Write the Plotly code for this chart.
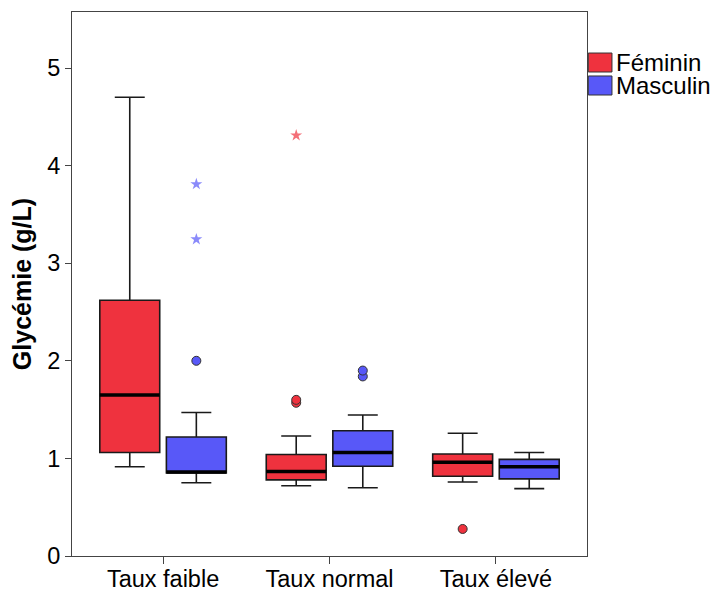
import plotly.graph_objects as go

categories = ["Taux faible", "Taux normal", "Taux élevé"]
series_names = ["Féminin", "Masculin"]
series_colors = ["#EF323E", "#5858F8"]

fem_q1 = [1.06, 0.78, 0.817]
fem_med = [1.65, 0.865, 0.96]
fem_q3 = [2.62, 1.04, 1.045]
fem_lo = [0.915, 0.72, 0.758]
fem_hi = [4.70, 1.23, 1.257]
fem_out = [[], [1.60, 1.57], [0.277]]
fem_extreme = [[], [4.31], []]

mas_q1 = [0.85, 0.92, 0.79]
mas_med = [0.86, 1.06, 0.915]
mas_q3 = [1.22, 1.284, 0.99]
mas_lo = [0.75, 0.70, 0.69]
mas_hi = [1.47, 1.445, 1.06]
mas_out = [[2.0], [1.90, 1.84], []]
mas_extreme = [[3.81, 3.245], [], []]

y_ticks = [0, 1, 2, 3, 4, 5]
y_title = "Glycémie (g/L)"

FONT = "Liberation Sans"
series = [
    (fem_q1, fem_med, fem_q3, fem_lo, fem_hi, fem_out, fem_extreme),
    (mas_q1, mas_med, mas_q3, mas_lo, mas_hi, mas_out, mas_extreme),
]


def samples(rows):
    # plotly.js drops a trace whose sample rows are empty; use a null placeholder
    return [r if len(r) else [None] for r in rows]


fig = go.Figure()
for name, color, (q1, med, q3, lo, hi, out, ext) in zip(series_names, series_colors, series):
    fig.add_trace(go.Box(
        x=categories, q1=q1, median=med, q3=q3, lowerfence=lo, upperfence=hi,
        y=samples(out), boxpoints="outliers", pointpos=0, jitter=0,
        name=name, offsetgroup=name, fillcolor=color,
        line=dict(color="#1a1a1a", width=1.6), whiskerwidth=0.5,
        marker=dict(color=color, size=9, symbol="circle",
                    line=dict(color="#333333", width=1)),
        showlegend=False,
    ))
for name, color, (q1, med, q3, lo, hi, out, ext) in zip(series_names, series_colors, series):
    fig.add_trace(go.Box(
        x=categories, q1=med, median=med, q3=med, lowerfence=med, upperfence=med,
        name=name, offsetgroup=name, fillcolor="rgba(0,0,0,0)",
        line=dict(color="#000000", width=3.5), whiskerwidth=0,
        boxpoints=False, showlegend=False, hoverinfo="skip",
    ))
    fig.add_trace(go.Box(
        x=categories, q1=med, median=med, q3=med, lowerfence=med, upperfence=med,
        y=samples(ext), boxpoints="all", pointpos=0, jitter=0,
        name=name, offsetgroup=name, fillcolor="rgba(0,0,0,0)",
        line=dict(color="rgba(0,0,0,0)", width=0), whiskerwidth=0,
        marker=dict(color=color, size=9, symbol="star", opacity=0.7,
                    line=dict(width=0)),
        showlegend=False,
    ))

# custom SPSS-style legend
legend_rows = [(0.9246, 0.8897), (0.8824, 0.8474)]
for name, color, (y1, y0) in zip(series_names, series_colors, legend_rows):
    fig.add_shape(type="rect", xref="paper", yref="paper",
                  x0=1.0025, x1=1.0485, y0=y0, y1=y1,
                  fillcolor=color, line=dict(color="#333333", width=1))
    fig.add_annotation(xref="paper", yref="paper", x=1.052, y=(y0 + y1) / 2,
                       text=name, showarrow=False, xanchor="left", yanchor="middle",
                       font=dict(family=FONT, size=24, color="#000000"))

fig.update_layout(
    width=711, height=592,
    margin=dict(l=72, r=124, t=12, b=36),
    paper_bgcolor="white", plot_bgcolor="white",
    boxmode="group", boxgap=0.2, boxgroupgap=0.1,
    showlegend=False,
    font=dict(family=FONT, size=23, color="#000000"),
)
fig.update_xaxes(
    type="category", categoryorder="array", categoryarray=categories,
    range=[-0.547, 2.547], automargin=False,
    showline=True, linecolor="#444444", linewidth=1, mirror=True,
    ticks="outside", ticklen=7, tickcolor="#444444", tickwidth=1,
    ticklabelstandoff=-5,
    showgrid=False, zeroline=False,
    tickfont=dict(family=FONT, size=23.5, color="#000000"),
)
fig.update_yaxes(
    range=[0, 5.574], tickvals=y_ticks, ticktext=[str(v) for v in y_ticks],
    automargin=False,
    showline=True, linecolor="#444444", linewidth=1, mirror=True,
    ticks="outside", ticklen=6, tickcolor="#444444", tickwidth=1,
    showgrid=False, zeroline=False,
    tickfont=dict(family=FONT, size=23.5, color="#000000"),
    title=dict(text=y_title, standoff=8,
               font=dict(family=FONT, size=25, color="#000000", weight="bold")),
)

fig.write_html(
    "out.html",
    config={"displayModeBar": False},
    post_script="document.body.style.margin='0';document.body.style.overflow='hidden';",
)
